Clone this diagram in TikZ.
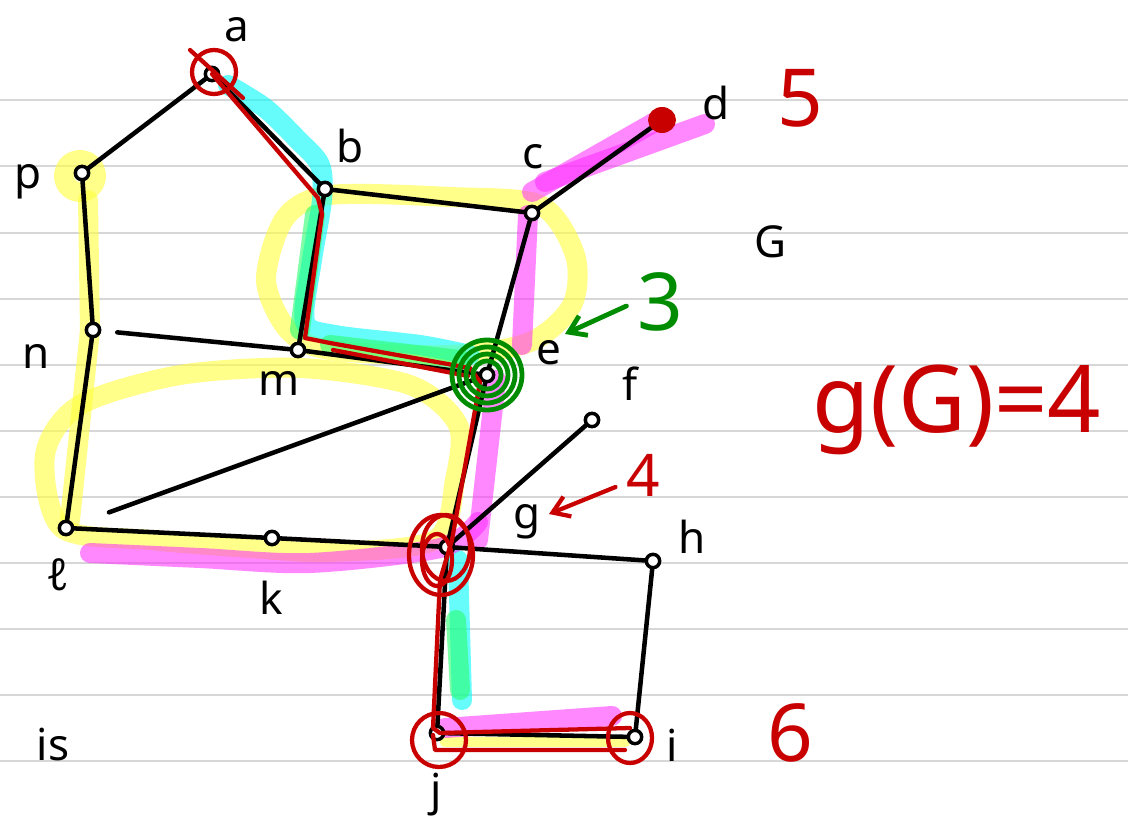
\documentclass[tikz,border=0pt]{standalone}
\usepackage{fontspec}
\setmainfont{Noto Sans}
\usetikzlibrary{arrows.meta}
\definecolor{penred}{RGB}{200,0,0}
\definecolor{pengreen}{RGB}{0,140,0}
\definecolor{hlyellow}{RGB}{255,255,60}
\definecolor{hlcyan}{RGB}{0,250,250}
\definecolor{hlmag}{RGB}{255,40,255}
\definecolor{hlgreen}{RGB}{40,255,110}
\definecolor{rulegray}{RGB}{215,215,215}
\begin{document}
\begin{tikzpicture}[x=0.75pt,y=-0.75pt,
  rule/.style={rulegray,line width=2pt},
  vtx/.style={circle,draw=black,line width=2.6pt,fill=white,minimum size=10pt,inner sep=0pt},
  edge/.style={black,line width=3.4pt,line cap=round},
  hl/.style={line width=15pt,line cap=round,line join=round,opacity=0.55},
  hly/.style={hl,draw=hlyellow,opacity=0.6},
  hlc/.style={hl,draw=hlcyan,opacity=0.6},
  hlm/.style={hl,draw=hlmag,opacity=0.55},
  hlg/.style={hl,draw=hlgreen,opacity=0.6},
  rpen/.style={penred,line width=3.2pt,line cap=round,line join=round},
  gpen/.style={pengreen,line width=3.6pt,line cap=round,line join=round},
  lbl/.style={font=\fontsize{33}{35}\selectfont},
  big/.style={font=\fontsize{60}{62}\selectfont}]
\useasboundingbox (0,0) rectangle (1128,827);
\fill[white] (0,0) rectangle (1128,827);
\foreach \yy in {100,166,233,299,365,431,497,563,629,695,761}
  \draw[rule] (0,\yy) -- (1128,\yy);

% highlighter strokes
\draw[hly] (80,176) circle[radius=16];
\draw[hly] (88,200) -- (90,330) -- (70,520);
\draw[hly] plot[smooth cycle] coordinates {(62,528) (45,455) (80,405) (180,375) (300,368) (410,385) (458,425) (455,480) (435,540) (330,552) (250,548) (150,540)};
\draw[hly] plot[smooth cycle] coordinates {(330,195) (450,197) (540,205) (575,255) (572,305) (530,342) (450,355) (330,350) (288,330) (266,280) (285,218)};
\draw[hly,line width=8pt] (445,742) -- (625,742);
\draw[hlc] plot[smooth] coordinates {(228,85) (265,108) (298,140) (320,165) (322,200) (312,260) (305,322) (335,335) (420,345) (470,355)};
\draw[hlc] (458,560) -- (462,700);
\draw[hlg] (315,215) -- (300,330);
\draw[hlg] (330,345) -- (460,360);
\draw[hlg] (456,620) -- (460,690);
\draw[hlm] (662,118) -- (532,192);
\draw[hlm] (705,124) -- (545,182);
\draw[hlm] (528,215) -- (522,345);
\draw[hlm] (496,380) -- (478,540);
\draw[hlm] plot[smooth] coordinates {(90,553) (200,558) (310,563) (440,548) (478,522)};
\draw[hlm] (445,728) -- (612,716);

% vertices
\node[vtx] (a) at (212,74) {};
\node[vtx] (p) at (82,173) {};
\node[vtx] (b) at (325,189) {};
\node[vtx] (c) at (532,213) {};
\node[vtx] (d) at (662,120) {};
\node[vtx] (n) at (93,330) {};
\node[vtx] (m) at (298,350) {};
\node[vtx] (e) at (487,375) {};
\node[vtx] (f) at (592,420) {};
\node[vtx] (l) at (66,528) {};
\node[vtx] (k) at (272,538) {};
\node[vtx] (g) at (447,547) {};
\node[vtx] (h) at (653,561) {};
\node[vtx] (j) at (437,733) {};
\node[vtx] (i) at (635,737) {};

% black edges
\draw[edge] (a) -- (p);
\draw[edge] (a) -- (b);
\draw[edge] (b) -- (c);
\draw[edge] (b) -- (m);
\draw[edge] (c) -- (d);
\draw[edge] (c) -- (e);
\draw[edge] (p) -- (n);
\draw[edge,shorten <=12pt] (n) -- (m);
\draw[edge] (n) -- (l);
\draw[edge] (m) -- (e);
\draw[edge,shorten >=28pt] (e) -- (l);
\draw[edge] (e) -- (g);
\draw[edge] (f) -- (g);
\draw[edge] (l) -- (k);
\draw[edge] (k) -- (g);
\draw[edge] (g) -- (h);
\draw[edge] (g) -- (j);
\draw[edge] (h) -- (i);
\draw[edge] (j) -- (i);

% red pen path
\draw[rpen] (a.center) -- (318,198) -- (322,214) -- (305,338) -- (330,343) -- (470,368) -- (480,382) -- (452,540) -- (440,580) -- (433,728) -- (440,733) -- (630,728);
\draw[rpen] (333,350) -- (468,376);
\draw[rpen] (433,735) -- (435,750) -- (625,750);
% red circles
\draw[rpen] (214,72) circle[radius=22];
\draw[rpen] (190,50) -- (243,98);
\draw[rpen] (441,555) ellipse[x radius=32,y radius=40];
\draw[rpen] (446,548) ellipse[x radius=24,y radius=33];
\draw[rpen] (437,560) ellipse[x radius=15,y radius=26];
\draw[rpen] (439,740) circle[radius=27];
\draw[rpen] (630,738) ellipse[x radius=22,y radius=25];
\fill[penred] (d.center) ellipse[x radius=14,y radius=13];
% green circles at e
\foreach \r in {35,28,21,14} \draw[gpen] (e.center) circle[radius=\r];

% labels
\node[lbl] at (237,30) {a};
\node[lbl] at (350,146) {b};
\node[lbl] at (533,157) {c};
\node[lbl] at (716,103) {d};
\node[lbl] at (549,353) {e};
\node[lbl] at (630,384) {f};
\node[lbl] at (527,522) {g};
\node[lbl] at (692,537) {h};
\node[lbl] at (672,745) {i};
\node[lbl] at (436,795) {j};
\node[lbl] at (271,598) {k};
\node[lbl] at (58,575) {ℓ};
\node[lbl] at (279,383) {m};
\node[lbl] at (36,356) {n};
\node[lbl] at (28,182) {p};
\node[lbl] at (771,242) {G};
\node[lbl] at (53,745) {is};

\node[big,penred] (t5) at (800,98) {5};
\node[big,penred] (t6) at (790,733) {6};
\node[penred,font=\fontsize{70}{72}\selectfont,anchor=base] (gg) at (957,432) {g(G)=4};
\node[big,pengreen] (t3) at (660,302) {3};
\coordinate (e3) at (565,334);
\draw[gpen,-{Straight Barb[length=12pt,width=16pt]}] (t3.west) ++(-6,4) -- (e3);
\node[penred,font=\fontsize{44}{46}\selectfont] (t4) at (643,475) {4};
\coordinate (g4) at (549,514);
\draw[rpen,-{Straight Barb[length=12pt,width=16pt]}] (t4.west) ++(-6,12) -- (g4);
\end{tikzpicture}
\end{document}
